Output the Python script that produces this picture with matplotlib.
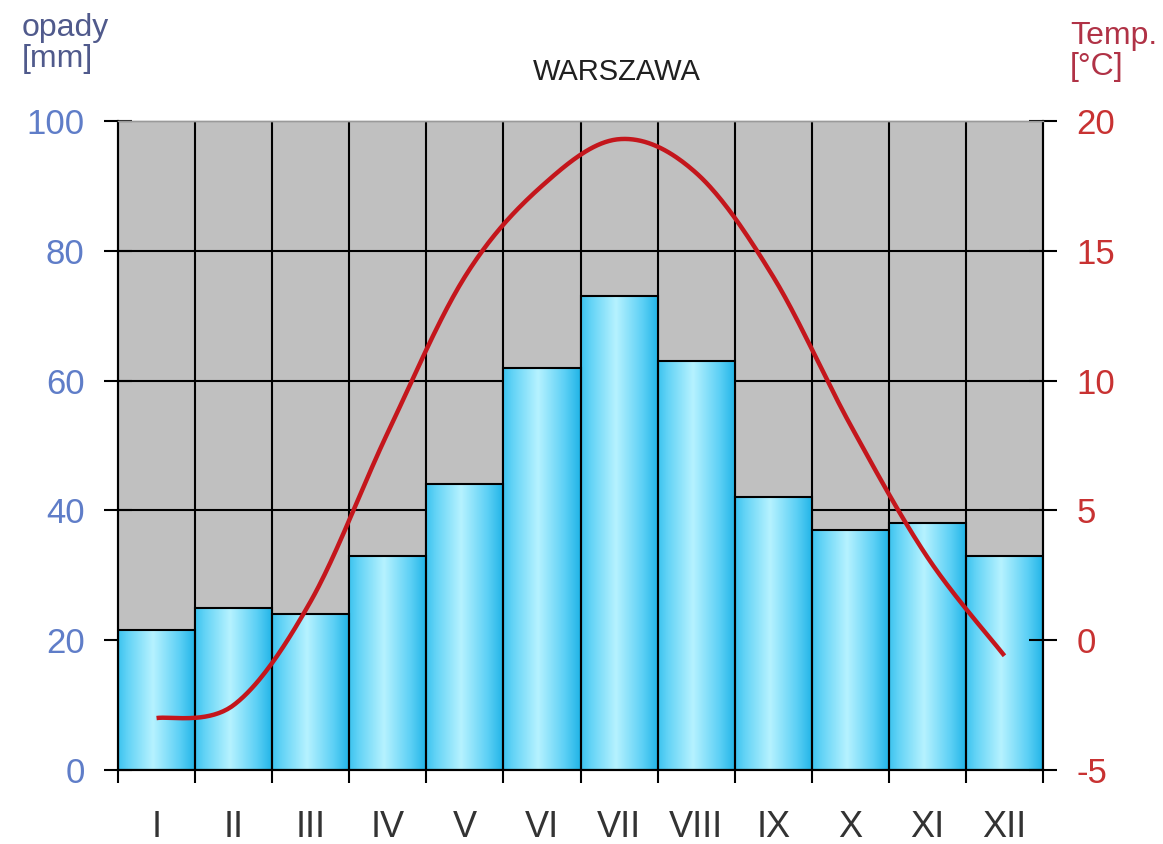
import matplotlib
matplotlib.use('Agg')
import matplotlib.pyplot as plt
from matplotlib.colors import LinearSegmentedColormap
import numpy as np

# climate data for Warszawa
months = ['I', 'II', 'III', 'IV', 'V', 'VI', 'VII', 'VIII', 'IX', 'X', 'XI', 'XII']
opady = [21.5, 25, 24, 33, 44, 62, 73, 63, 42, 37, 38, 33]
temp = [-3.0, -2.5, 1.5, 8.0, 14.0, 17.5, 19.3, 18.0, 14.0, 8.3, 3.2, -0.6]
opady_ticks = [0, 20, 40, 60, 80, 100]
temp_ticks = [-5, 0, 5, 10, 15, 20]

FONT = 'Liberation Sans'
BLUE = '#5f7dc8'
RED = '#c83232'


def smooth_line(xs, ys, n=40):
    """ Catmull-Rom smoothing, similar to a spreadsheet 'smoothed line' """
    pts = np.column_stack([xs, ys]).astype(float)
    pts = np.vstack([pts[0], pts, pts[-1]])
    out = []
    t = np.linspace(0, 1, n)[:, None]
    for i in range(1, len(pts) - 2):
        p0, p1, p2, p3 = pts[i - 1], pts[i], pts[i + 1], pts[i + 2]
        seg = 0.5 * (2 * p1 + (-p0 + p2) * t + (2 * p0 - 5 * p1 + 4 * p2 - p3) * t ** 2
                     + (-p0 + 3 * p1 - 3 * p2 + p3) * t ** 3)
        out.append(seg)
    out = np.vstack(out)
    return out[:, 0], out[:, 1]


fig = plt.figure(figsize=(11.63, 8.44), dpi=100)
ax = fig.add_axes([118 / 1163, 1 - 770 / 844, 925 / 1163, 649 / 844])
ax.set_facecolor('#c0c0c0')

n = len(months)
centers = np.arange(n) + 0.5

# gridlines behind the bars
for v in opady_ticks[1:-1]:
    ax.axhline(v, color='black', lw=1.5, zorder=1)
for b in range(1, n):
    ax.axvline(b, color='black', lw=1.5, zorder=1)

# gradient bars
bar_cmap = LinearSegmentedColormap.from_list('bar', [
    (0.0, '#3cc3ef'), (0.12, '#62d3f6'), (0.45, '#b6f2ff'),
    (0.8, '#5acff5'), (1.0, '#1fb3e6')])
grad = np.linspace(0, 1, 256).reshape(1, -1)
for i, h in enumerate(opady):
    ax.imshow(grad, extent=(i, i + 1, 0, h), aspect='auto', cmap=bar_cmap,
              interpolation='bicubic', zorder=2)
ax.bar(centers, opady, width=1, fill=False, edgecolor='black', lw=1.5, zorder=3)

ax.set_xlim(0, n)
ax.set_ylim(opady_ticks[0], opady_ticks[-1])
ax.set_yticks(opady_ticks)
ax.set_yticklabels([str(v) for v in opady_ticks], fontfamily=FONT)
ax.tick_params(axis='y', direction='inout', length=20, width=1.5, color='black',
               labelcolor=BLUE, labelsize=25, pad=14)

ax.set_xticks(range(n + 1))
ax.set_xticklabels([''] * (n + 1))
ax.set_xticks(centers, minor=True)
ax.set_xticklabels(months, minor=True, fontfamily=FONT)
ax.tick_params(axis='x', which='major', direction='out', length=9.5, width=1.5)
ax.tick_params(axis='x', which='minor', length=0, pad=29, labelsize=26,
               labelcolor='#333333')

# temperature on the right axis
ax2 = ax.twinx()
ax2.set_ylim(temp_ticks[0], temp_ticks[-1])
ax2.set_yticks(temp_ticks)
ax2.set_yticklabels([str(v) for v in temp_ticks], fontfamily=FONT)
ax2.tick_params(axis='y', direction='inout', length=20, width=1.5, color='black',
                labelcolor=RED, labelsize=25, pad=14)
sx, sy = smooth_line(centers, temp)
ax2.plot(sx, sy, color='#c4161c', lw=3.2, solid_capstyle='butt', zorder=5)

for a in (ax, ax2):
    for side in ('left', 'right', 'bottom'):
        a.spines[side].set_color('black')
        a.spines[side].set_linewidth(1.5)
    a.spines['top'].set_color('#9a9a9a')
    a.spines['top'].set_linewidth(1)

fig.text(617 / 1163, 1 - 72 / 844, 'WARSZAWA', ha='center', va='center',
         fontsize=21, color='#202020', fontfamily=FONT)
fig.text(22 / 1163, 1 - 13 / 844, 'opady\n[mm]', ha='left', va='top', fontsize=23,
         color='#505a8c', fontfamily=FONT, linespacing=1.05)
fig.text(1070 / 1163, 1 - 21 / 844, 'Temp.\n[°C]', ha='left', va='top', fontsize=23,
         color='#b03246', fontfamily=FONT, linespacing=1.05)

fig.savefig('out.png', dpi=100, facecolor='white')
